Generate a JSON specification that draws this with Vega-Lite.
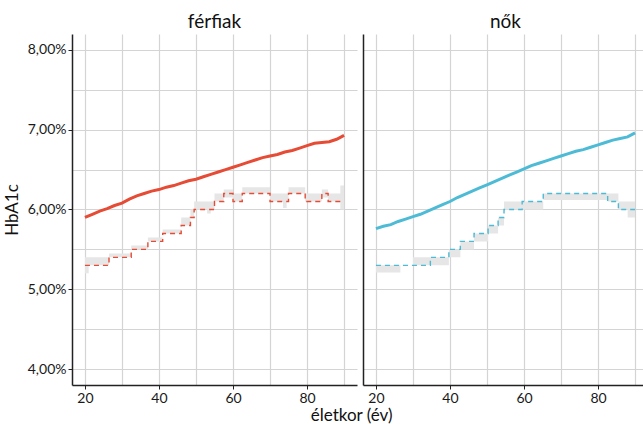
{
  "$schema": "https://vega.github.io/schema/vega-lite/v6.json",
  "padding": {"left": 3, "top": 13, "right": 0, "bottom": 0},
  "background": "white",
  "config": {
    "font": "Lato",
    "view": {"stroke": null},
    "axis": {
      "gridColor": "#d4d4d4",
      "gridWidth": 1.2,
      "domainColor": "#222222",
      "domainWidth": 1.5,
      "tickColor": "#222222",
      "tickSize": 4,
      "labelFontSize": 14,
      "labelColor": "#1a1a1a",
      "titleFontSize": 17,
      "titleFontWeight": "normal",
      "titleColor": "#111111"
    },
    "title": {"fontSize": 19, "fontWeight": "normal", "color": "#111111"}
  },
  "title": {"text": "életkor (év)", "orient": "bottom", "anchor": "middle", "fontSize": 17, "fontWeight": "normal", "offset": 3, "dx": 26},
  "datasets": {
    "mean": [
      {"sex": "férfiak", "age": 20, "v": 5.90}, {"sex": "férfiak", "age": 22, "v": 5.94}, {"sex": "férfiak", "age": 24, "v": 5.98}, {"sex": "férfiak", "age": 26, "v": 6.01}, {"sex": "férfiak", "age": 28, "v": 6.05}, {"sex": "férfiak", "age": 30, "v": 6.08}, {"sex": "férfiak", "age": 32, "v": 6.13}, {"sex": "férfiak", "age": 34, "v": 6.17}, {"sex": "férfiak", "age": 36, "v": 6.20}, {"sex": "férfiak", "age": 38, "v": 6.23}, {"sex": "férfiak", "age": 40, "v": 6.25}, {"sex": "férfiak", "age": 42, "v": 6.28}, {"sex": "férfiak", "age": 44, "v": 6.30}, {"sex": "férfiak", "age": 46, "v": 6.33}, {"sex": "férfiak", "age": 48, "v": 6.36}, {"sex": "férfiak", "age": 50, "v": 6.38}, {"sex": "férfiak", "age": 52, "v": 6.41}, {"sex": "férfiak", "age": 54, "v": 6.44}, {"sex": "férfiak", "age": 56, "v": 6.47}, {"sex": "férfiak", "age": 58, "v": 6.50}, {"sex": "férfiak", "age": 60, "v": 6.53}, {"sex": "férfiak", "age": 62, "v": 6.56}, {"sex": "férfiak", "age": 64, "v": 6.59}, {"sex": "férfiak", "age": 66, "v": 6.62}, {"sex": "férfiak", "age": 68, "v": 6.65}, {"sex": "férfiak", "age": 70, "v": 6.67}, {"sex": "férfiak", "age": 72, "v": 6.69}, {"sex": "férfiak", "age": 74, "v": 6.72}, {"sex": "férfiak", "age": 76, "v": 6.74}, {"sex": "férfiak", "age": 78, "v": 6.77}, {"sex": "férfiak", "age": 80, "v": 6.80}, {"sex": "férfiak", "age": 82, "v": 6.83}, {"sex": "férfiak", "age": 84, "v": 6.84}, {"sex": "férfiak", "age": 86, "v": 6.85}, {"sex": "férfiak", "age": 88, "v": 6.88}, {"sex": "férfiak", "age": 90, "v": 6.93},
      {"sex": "nők", "age": 20, "v": 5.76}, {"sex": "nők", "age": 22, "v": 5.79}, {"sex": "nők", "age": 24, "v": 5.81}, {"sex": "nők", "age": 26, "v": 5.85}, {"sex": "nők", "age": 28, "v": 5.88}, {"sex": "nők", "age": 30, "v": 5.91}, {"sex": "nők", "age": 32, "v": 5.94}, {"sex": "nők", "age": 34, "v": 5.98}, {"sex": "nők", "age": 36, "v": 6.02}, {"sex": "nők", "age": 38, "v": 6.06}, {"sex": "nők", "age": 40, "v": 6.10}, {"sex": "nők", "age": 42, "v": 6.15}, {"sex": "nők", "age": 44, "v": 6.19}, {"sex": "nők", "age": 46, "v": 6.23}, {"sex": "nők", "age": 48, "v": 6.27}, {"sex": "nők", "age": 50, "v": 6.31}, {"sex": "nők", "age": 52, "v": 6.35}, {"sex": "nők", "age": 54, "v": 6.39}, {"sex": "nők", "age": 56, "v": 6.43}, {"sex": "nők", "age": 58, "v": 6.47}, {"sex": "nők", "age": 60, "v": 6.51}, {"sex": "nők", "age": 62, "v": 6.55}, {"sex": "nők", "age": 64, "v": 6.58}, {"sex": "nők", "age": 66, "v": 6.61}, {"sex": "nők", "age": 68, "v": 6.64}, {"sex": "nők", "age": 70, "v": 6.67}, {"sex": "nők", "age": 72, "v": 6.70}, {"sex": "nők", "age": 74, "v": 6.73}, {"sex": "nők", "age": 76, "v": 6.75}, {"sex": "nők", "age": 78, "v": 6.78}, {"sex": "nők", "age": 80, "v": 6.81}, {"sex": "nők", "age": 82, "v": 6.84}, {"sex": "nők", "age": 84, "v": 6.87}, {"sex": "nők", "age": 86, "v": 6.89}, {"sex": "nők", "age": 88, "v": 6.91}, {"sex": "nők", "age": 90, "v": 6.96}
    ],
    "median": [
      {"sex": "férfiak", "age": 20, "med": 5.3, "lo": 5.2, "hi": 5.4},
      {"sex": "férfiak", "age": 21, "med": 5.3, "lo": 5.3, "hi": 5.4},
      {"sex": "férfiak", "age": 26.5, "med": 5.4, "lo": 5.4, "hi": 5.45},
      {"sex": "férfiak", "age": 32.5, "med": 5.5, "lo": 5.5, "hi": 5.55},
      {"sex": "férfiak", "age": 37, "med": 5.6, "lo": 5.6, "hi": 5.65},
      {"sex": "férfiak", "age": 41, "med": 5.7, "lo": 5.7, "hi": 5.75},
      {"sex": "férfiak", "age": 46, "med": 5.8, "lo": 5.8, "hi": 5.9},
      {"sex": "férfiak", "age": 48.5, "med": 5.9, "lo": 5.9, "hi": 6.0},
      {"sex": "férfiak", "age": 49.5, "med": 6.0, "lo": 6.0, "hi": 6.1},
      {"sex": "férfiak", "age": 53, "med": 6.0, "lo": 5.95, "hi": 6.1},
      {"sex": "férfiak", "age": 54, "med": 6.0, "lo": 6.0, "hi": 6.1},
      {"sex": "férfiak", "age": 55, "med": 6.1, "lo": 6.1, "hi": 6.2},
      {"sex": "férfiak", "age": 57.5, "med": 6.2, "lo": 6.15, "hi": 6.25},
      {"sex": "férfiak", "age": 60, "med": 6.1, "lo": 6.1, "hi": 6.2},
      {"sex": "férfiak", "age": 62.5, "med": 6.2, "lo": 6.2, "hi": 6.28},
      {"sex": "férfiak", "age": 70, "med": 6.1, "lo": 6.1, "hi": 6.2},
      {"sex": "férfiak", "age": 73.5, "med": 6.1, "lo": 6.02, "hi": 6.2},
      {"sex": "férfiak", "age": 74.5, "med": 6.1, "lo": 6.1, "hi": 6.2},
      {"sex": "férfiak", "age": 75, "med": 6.2, "lo": 6.2, "hi": 6.28},
      {"sex": "férfiak", "age": 79.5, "med": 6.1, "lo": 6.1, "hi": 6.2},
      {"sex": "férfiak", "age": 84, "med": 6.2, "lo": 6.15, "hi": 6.25},
      {"sex": "férfiak", "age": 85.7, "med": 6.1, "lo": 6.1, "hi": 6.2},
      {"sex": "férfiak", "age": 89, "med": 6.1, "lo": 6.0, "hi": 6.3},
      {"sex": "férfiak", "age": 90, "med": 6.1, "lo": 6.0, "hi": 6.3},
      {"sex": "nők", "age": 20, "med": 5.3, "lo": 5.21, "hi": 5.3},
      {"sex": "nők", "age": 26.6, "med": 5.3, "lo": 5.3, "hi": 5.3},
      {"sex": "nők", "age": 30, "med": 5.3, "lo": 5.3, "hi": 5.4},
      {"sex": "nők", "age": 34.7, "med": 5.4, "lo": 5.3, "hi": 5.4},
      {"sex": "nők", "age": 39.7, "med": 5.5, "lo": 5.4, "hi": 5.5},
      {"sex": "nők", "age": 42.8, "med": 5.6, "lo": 5.5, "hi": 5.6},
      {"sex": "nők", "age": 46.5, "med": 5.7, "lo": 5.6, "hi": 5.7},
      {"sex": "nők", "age": 50.3, "med": 5.8, "lo": 5.7, "hi": 5.8},
      {"sex": "nők", "age": 53, "med": 5.9, "lo": 5.8, "hi": 5.9},
      {"sex": "nők", "age": 54.6, "med": 6.0, "lo": 6.0, "hi": 6.1},
      {"sex": "nők", "age": 59.5, "med": 6.1, "lo": 6.0, "hi": 6.1},
      {"sex": "nők", "age": 65.2, "med": 6.2, "lo": 6.12, "hi": 6.2},
      {"sex": "nők", "age": 82.6, "med": 6.1, "lo": 6.1, "hi": 6.2},
      {"sex": "nők", "age": 85.5, "med": 6.0, "lo": 6.0, "hi": 6.1},
      {"sex": "nők", "age": 88, "med": 6.0, "lo": 5.9, "hi": 6.1},
      {"sex": "nők", "age": 90, "med": 6.0, "lo": 5.9, "hi": 6.1}
    ]
  },
  "spacing": 6,
  "hconcat": [
    {
      "width": 285,
      "height": 351,
      "title": {"text": "férfiak", "anchor": "middle", "offset": 2},
      "layer": [
        {
          "data": {"name": "median"},
          "transform": [{"filter": "datum.sex === 'férfiak'"}],
          "mark": {"type": "area", "interpolate": "step-after", "color": "#e6e6e6"},
          "encoding": {
            "x": {"field": "age", "type": "quantitative", "scale": {"domain": [16.5, 93.5], "nice": false, "zero": false},
              "axis": {"title": null, "values": [20, 30, 40, 50, 60, 70, 80, 90], "labelExpr": "datum.value % 20 === 0 ? datum.label : ''", "tickOpacity": {"condition": {"test": "datum.value % 20 !== 0", "value": 0}, "value": 1}}},
            "y": {"field": "lo", "type": "quantitative", "scale": {"domain": [3.8, 8.2], "nice": false, "zero": false},
              "axis": {"title": "HbA1c", "values": [4, 4.5, 5, 5.5, 6, 6.5, 7, 7.5, 8], "labelExpr": "datum.value % 1 === 0 ? replace(format(datum.value, '.2f'), '.', ',') + '%' : ''", "tickOpacity": {"condition": {"test": "datum.value % 1 !== 0", "value": 0}, "value": 1}, "labelPadding": 2, "titlePadding": 6}},
            "y2": {"field": "hi"}
          }
        },
        {
          "data": {"name": "median"},
          "transform": [{"filter": "datum.sex === 'férfiak'"}],
          "mark": {"type": "line", "interpolate": "step-after", "color": "#E64B35", "strokeWidth": 1.4, "strokeDash": [5, 4]},
          "encoding": {
            "x": {"field": "age", "type": "quantitative"},
            "y": {"field": "med", "type": "quantitative"}
          }
        },
        {
          "data": {"name": "mean"},
          "transform": [{"filter": "datum.sex === 'férfiak'"}],
          "mark": {"type": "line", "color": "#E64B35", "strokeWidth": 3},
          "encoding": {
            "x": {"field": "age", "type": "quantitative"},
            "y": {"field": "v", "type": "quantitative"}
          }
        }
      ]
    },
    {
      "width": 285,
      "height": 351,
      "title": {"text": "nők", "anchor": "middle", "offset": 2},
      "layer": [
        {
          "data": {"name": "median"},
          "transform": [{"filter": "datum.sex === 'nők'"}],
          "mark": {"type": "area", "interpolate": "step-after", "color": "#e6e6e6"},
          "encoding": {
            "x": {"field": "age", "type": "quantitative", "scale": {"domain": [16.5, 93.5], "nice": false, "zero": false},
              "axis": {"title": null, "values": [20, 30, 40, 50, 60, 70, 80, 90], "labelExpr": "datum.value % 20 === 0 ? datum.label : ''", "tickOpacity": {"condition": {"test": "datum.value % 20 !== 0", "value": 0}, "value": 1}}},
            "y": {"field": "lo", "type": "quantitative", "scale": {"domain": [3.8, 8.2], "nice": false, "zero": false},
              "axis": {"title": null, "values": [4, 4.5, 5, 5.5, 6, 6.5, 7, 7.5, 8], "labels": false, "ticks": false}},
            "y2": {"field": "hi"}
          }
        },
        {
          "data": {"name": "median"},
          "transform": [{"filter": "datum.sex === 'nők'"}],
          "mark": {"type": "line", "interpolate": "step-after", "color": "#4DBBD5", "strokeWidth": 1.4, "strokeDash": [5, 4]},
          "encoding": {
            "x": {"field": "age", "type": "quantitative"},
            "y": {"field": "med", "type": "quantitative"}
          }
        },
        {
          "data": {"name": "mean"},
          "transform": [{"filter": "datum.sex === 'nők'"}],
          "mark": {"type": "line", "color": "#4DBBD5", "strokeWidth": 3},
          "encoding": {
            "x": {"field": "age", "type": "quantitative"},
            "y": {"field": "v", "type": "quantitative"}
          }
        }
      ]
    }
  ]
}
